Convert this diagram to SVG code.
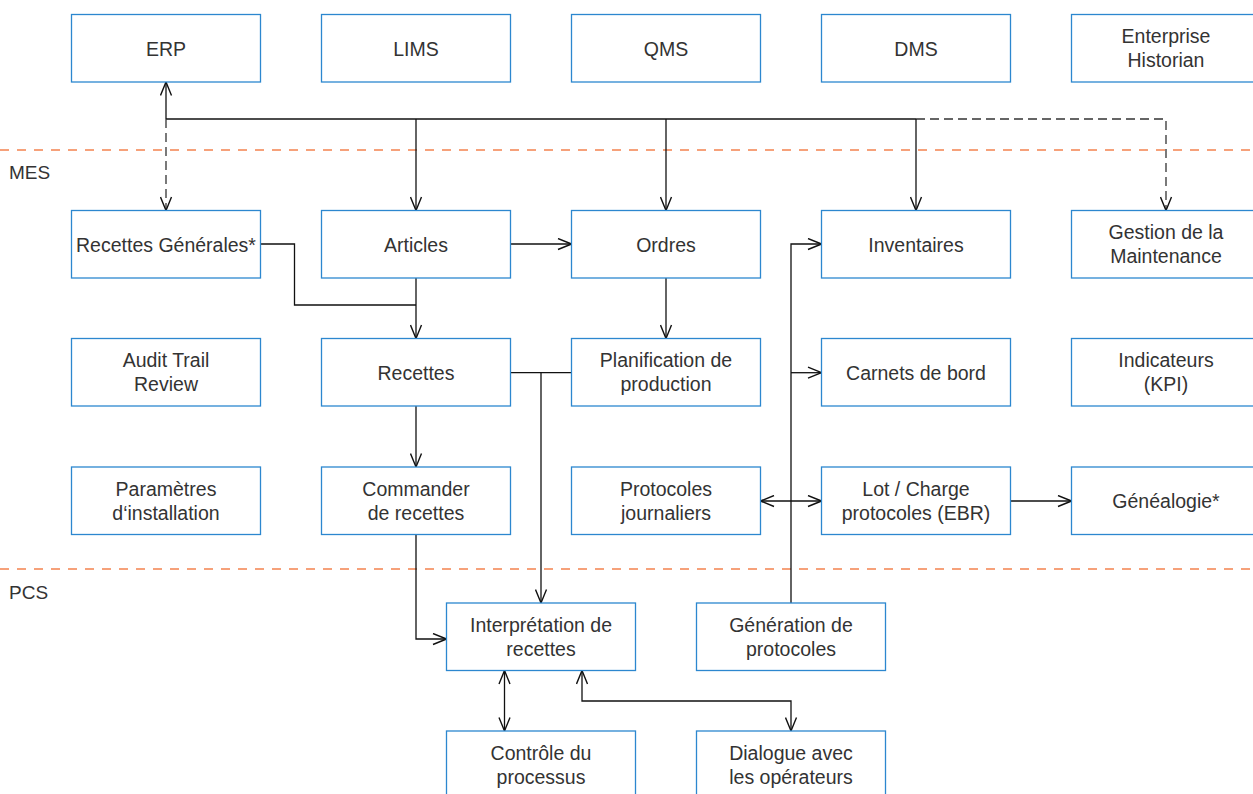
<svg xmlns="http://www.w3.org/2000/svg" width="1253" height="794" viewBox="0 0 1253 794">
<defs>
<style>
.box{fill:#fff;stroke:#2c87cf;stroke-width:1.3}
.t{font-family:"Liberation Sans",Arial,Helvetica,sans-serif;font-size:19.5px;fill:#333;text-anchor:middle}
.lbl{font-family:"Liberation Sans",Arial,Helvetica,sans-serif;font-size:19px;fill:#333}
.sep{stroke:#f4834f;stroke-width:1.5;stroke-dasharray:9 8;fill:none}
.c{fill:none;stroke:#111;stroke-width:1.3}
.d{fill:none;stroke:#333;stroke-width:1.3;stroke-dasharray:9 5}
</style>
<marker id="a" viewBox="0 0 16 13" markerWidth="16" markerHeight="13" refX="14.5" refY="6.5" orient="auto-start-reverse" markerUnits="userSpaceOnUse">
<path d="M1,1 L14.5,6.5 L1,12" fill="none" stroke="#111" stroke-width="1.4"/>
</marker>
</defs>
<rect width="1253" height="794" fill="#fff"/>
<g id="separators">
<line class="sep" x1="0" y1="150" x2="1253" y2="150"/>
<line class="sep" x1="0" y1="569" x2="1253" y2="569"/>
<text class="lbl" x="9" y="179">MES</text>
<text class="lbl" x="9" y="599">PCS</text>
</g>
<g id="connectors">
<path class="c" d="M166,119 V82" marker-end="url(#a)"/>
<path class="c" d="M166,119 H916"/>
<path class="d" d="M916,119 H1166 V210.5" marker-end="url(#a)"/>
<path class="d" d="M166,119 V210.5" marker-end="url(#a)"/>
<path class="c" d="M416,119 V210.5" marker-end="url(#a)"/>
<path class="c" d="M666,119 V210.5" marker-end="url(#a)"/>
<path class="c" d="M916,119 V210.5" marker-end="url(#a)"/>
<path class="c" d="M260.5,244 H294.5 V305 H416"/>
<path class="c" d="M416,278 V338.5" marker-end="url(#a)"/>
<path class="c" d="M510.5,244 H571.5" marker-end="url(#a)"/>
<path class="c" d="M666,278 V338.5" marker-end="url(#a)"/>
<path class="c" d="M510.5,372.7 H571.5"/>
<path class="c" d="M541,372.7 V603" marker-end="url(#a)"/>
<path class="c" d="M416,406 V467" marker-end="url(#a)"/>
<path class="c" d="M416,534.5 V639 H446.5" marker-end="url(#a)"/>
<path class="c" d="M791,603 V244 H821.5" marker-end="url(#a)"/>
<path class="c" d="M791,372.7 H821.5" marker-end="url(#a)"/>
<path class="c" d="M760.5,501 H821.5" marker-start="url(#a)" marker-end="url(#a)"/>
<path class="c" d="M1010.5,501 H1071.5" marker-end="url(#a)"/>
<path class="c" d="M504.5,670.5 V731" marker-start="url(#a)" marker-end="url(#a)"/>
<path class="c" d="M582,670.5 V701 H791 V731" marker-start="url(#a)" marker-end="url(#a)"/>
</g>
<g id="n-erp"><rect class="box" x="71.5" y="14.5" width="189" height="67.5"/><text class="t" x="166" y="55.5">ERP</text></g>
<g id="n-lims"><rect class="box" x="321.5" y="14.5" width="189" height="67.5"/><text class="t" x="416" y="55.5">LIMS</text></g>
<g id="n-qms"><rect class="box" x="571.5" y="14.5" width="189" height="67.5"/><text class="t" x="666" y="55.5">QMS</text></g>
<g id="n-dms"><rect class="box" x="821.5" y="14.5" width="189" height="67.5"/><text class="t" x="916" y="55.5">DMS</text></g>
<g id="n-historian"><rect class="box" x="1071.5" y="14.5" width="189" height="67.5"/><text class="t" x="1166" y="43">Enterprise</text><text class="t" x="1166" y="67">Historian</text></g>

<g id="n-recgen"><rect class="box" x="71.5" y="210.5" width="189" height="67.5"/><text class="t" x="166" y="251.5">Recettes Générales*</text></g>
<g id="n-articles"><rect class="box" x="321.5" y="210.5" width="189" height="67.5"/><text class="t" x="416" y="251.5">Articles</text></g>
<g id="n-ordres"><rect class="box" x="571.5" y="210.5" width="189" height="67.5"/><text class="t" x="666" y="251.5">Ordres</text></g>
<g id="n-inventaires"><rect class="box" x="821.5" y="210.5" width="189" height="67.5"/><text class="t" x="916" y="251.5">Inventaires</text></g>
<g id="n-maintenance"><rect class="box" x="1071.5" y="210.5" width="189" height="67.5"/><text class="t" x="1166" y="239">Gestion de la</text><text class="t" x="1166" y="263">Maintenance</text></g>

<g id="n-audit"><rect class="box" x="71.5" y="338.5" width="189" height="67.5"/><text class="t" x="166" y="367">Audit Trail</text><text class="t" x="166" y="391">Review</text></g>
<g id="n-recettes"><rect class="box" x="321.5" y="338.5" width="189" height="67.5"/><text class="t" x="416" y="379.5">Recettes</text></g>
<g id="n-planif"><rect class="box" x="571.5" y="338.5" width="189" height="67.5"/><text class="t" x="666" y="367">Planification de</text><text class="t" x="666" y="391">production</text></g>
<g id="n-carnets"><rect class="box" x="821.5" y="338.5" width="189" height="67.5"/><text class="t" x="916" y="379.5">Carnets de bord</text></g>
<g id="n-kpi"><rect class="box" x="1071.5" y="338.5" width="189" height="67.5"/><text class="t" x="1166" y="367">Indicateurs</text><text class="t" x="1166" y="391">(KPI)</text></g>

<g id="n-param"><rect class="box" x="71.5" y="467" width="189" height="67.5"/><text class="t" x="166" y="495.5">Paramètres</text><text class="t" x="166" y="519.5">d‘installation</text></g>
<g id="n-commander"><rect class="box" x="321.5" y="467" width="189" height="67.5"/><text class="t" x="416" y="495.5">Commander</text><text class="t" x="416" y="519.5">de recettes</text></g>
<g id="n-protjour"><rect class="box" x="571.5" y="467" width="189" height="67.5"/><text class="t" x="666" y="495.5">Protocoles</text><text class="t" x="666" y="519.5">journaliers</text></g>
<g id="n-lot"><rect class="box" x="821.5" y="467" width="189" height="67.5"/><text class="t" x="916" y="495.5">Lot / Charge</text><text class="t" x="916" y="519.5">protocoles (EBR)</text></g>
<g id="n-genealogie"><rect class="box" x="1071.5" y="467" width="189" height="67.5"/><text class="t" x="1166" y="508">Généalogie*</text></g>

<g id="n-interp"><rect class="box" x="446.5" y="603" width="189" height="67.5"/><text class="t" x="541" y="631.5">Interprétation de</text><text class="t" x="541" y="655.5">recettes</text></g>
<g id="n-generation"><rect class="box" x="696.5" y="603" width="189" height="67.5"/><text class="t" x="791" y="631.5">Génération de</text><text class="t" x="791" y="655.5">protocoles</text></g>

<g id="n-controle"><rect class="box" x="446.5" y="731" width="189" height="67.5"/><text class="t" x="541" y="759.5">Contrôle du</text><text class="t" x="541" y="783.5">processus</text></g>
<g id="n-dialogue"><rect class="box" x="696.5" y="731" width="189" height="67.5"/><text class="t" x="791" y="759.5">Dialogue avec</text><text class="t" x="791" y="783.5">les opérateurs</text></g>
</svg>
